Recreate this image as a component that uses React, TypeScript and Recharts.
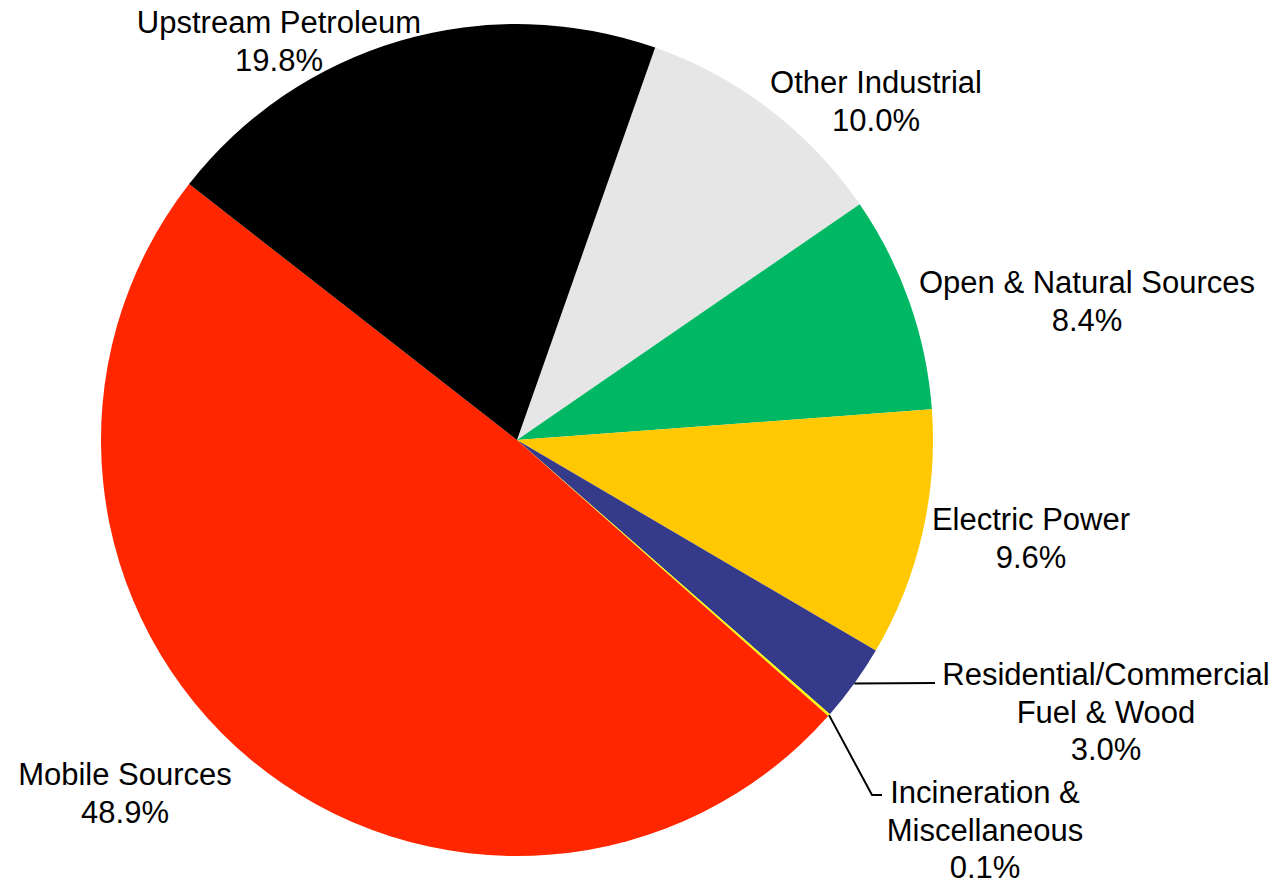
import { PieChart, Pie, Cell } from "recharts";

// sources, clockwise from the top-right edge of the black slice
const sources = [
  "Other Industrial",
  "Open & Natural Sources",
  "Electric Power",
  "Residential/Commercial\nFuel & Wood",
  "Incineration &\nMiscellaneous",
  "Mobile Sources",
  "Upstream Petroleum",
];
const shares = [10.0, 8.4, 9.6, 3.0, 0.1, 48.9, 19.8];
const colors = ["#e6e6e6", "#00b864", "#ffc800", "#363a8b", "#ffff00", "#ff2600", "#000000"];

// label placement: offset of the first baseline (text centre) from the pie centre
const labelPos = [
  { dx: 359, dy: -347 },
  { dx: 570, dy: -147 },
  { dx: 514, dy: 90 },
  { dx: 589, dy: 245 },
  { dx: 468, dy: 363 },
  { dx: -392, dy: 345 },
  { dx: -238, dy: -407 },
];
// leader lines (points relative to pie centre, after the arc point)
const leaders: Record<number, { x: number; y: number }[]> = {
  3: [{ x: 418, y: 243 }],
  4: [{ x: 355, y: 355 }, { x: 365, y: 355 }],
};

const data = sources.map((name, i) => ({ name, value: shares[i] }));

const RAD = Math.PI / 180;
const LINE_H = 37.5;

function renderLabel(props: any) {
  const { cx, cy, midAngle, outerRadius, index } = props;
  const pos = labelPos[index];
  const lines = sources[index].split("\n").concat(`${shares[index].toFixed(1)}%`);
  const x = cx + pos.dx;
  const y = cy + pos.dy;
  const lead = leaders[index];
  let path: string | null = null;
  if (lead) {
    const sx = cx + outerRadius * Math.cos(-midAngle * RAD);
    const sy = cy + outerRadius * Math.sin(-midAngle * RAD);
    path = `M${sx},${sy}` + lead.map((p) => ` L${cx + p.x},${cy + p.y}`).join("");
  }
  return (
    <g key={`lbl-${index}`}>
      {path && <path d={path} stroke="#000" strokeWidth={2} fill="none" />}
      <text x={x} y={y} textAnchor="middle" fill="#000" fontSize={31} fontFamily="'Liberation Sans', Arial, sans-serif">
        {lines.map((l, i) => (
          <tspan key={i} x={x} y={y + i * LINE_H}>
            {l}
          </tspan>
        ))}
      </text>
    </g>
  );
}

export default function App() {
  return (
    <div style={{ position: "absolute", left: 0, top: 0, background: "#fff" }}>
      <PieChart width={1282} height={882} margin={{ top: 0, right: 0, bottom: 0, left: 0 }}>
        <Pie
          data={data}
          dataKey="value"
          nameKey="name"
          cx={517}
          cy={440}
          outerRadius={416}
          startAngle={70.6}
          endAngle={-289.4}
          stroke="none"
          label={renderLabel}
          labelLine={false}
          isAnimationActive={false}
        >
          {data.map((_, i) => (
            <Cell key={i} fill={colors[i]} />
          ))}
        </Pie>
      </PieChart>
    </div>
  );
}
